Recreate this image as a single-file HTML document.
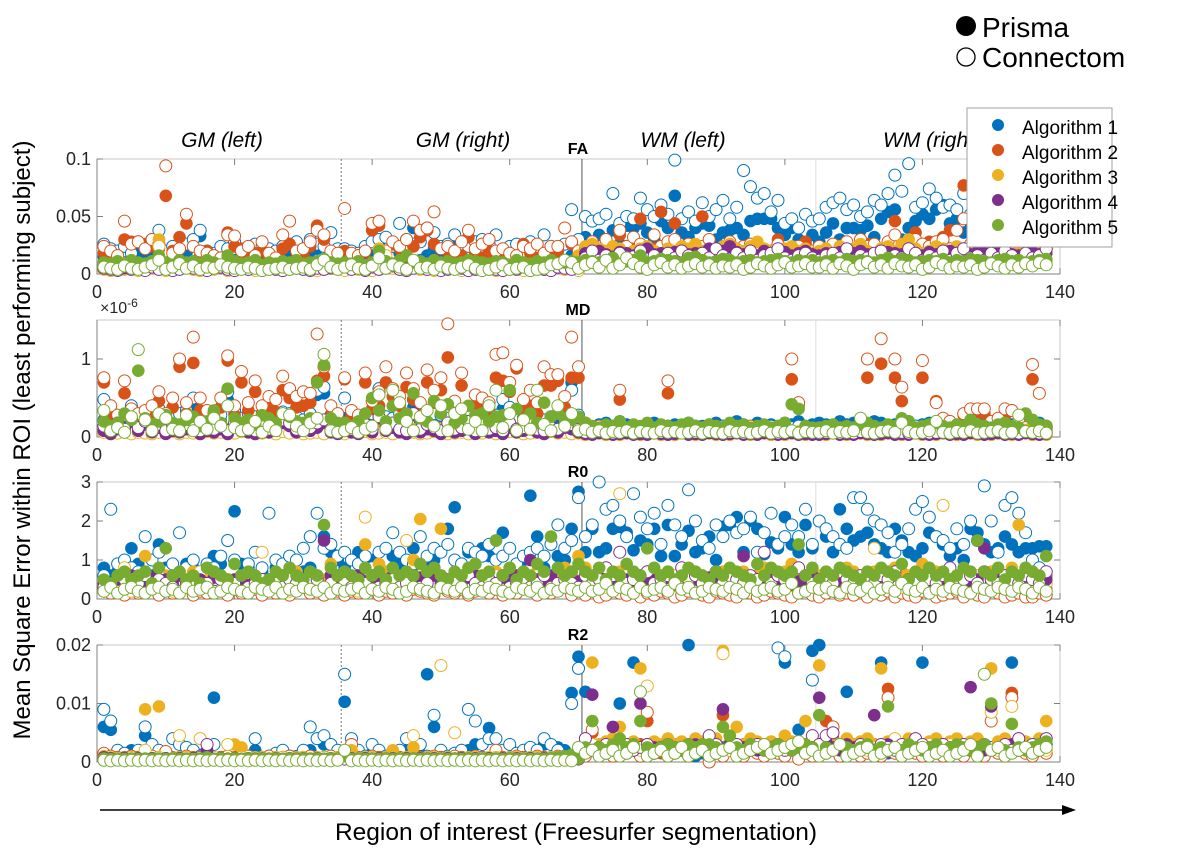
<!DOCTYPE html>
<html><head><meta charset="utf-8"><style>
body{margin:0;background:#fff;width:1191px;height:864px;overflow:hidden}
svg{display:block;font-family:"Liberation Sans",sans-serif}
</style></head><body>
<svg id="chart" width="1191" height="864" xmlns="http://www.w3.org/2000/svg">
<g id="plots"></g>
<g>
<circle cx="966" cy="26" r="10" fill="#000"/>
<text x="982" y="37" font-size="28">Prisma</text>
<circle cx="966" cy="57" r="9" fill="#fff" stroke="#000" stroke-width="1.3"/>
<text x="982" y="67" font-size="28">Connectom</text>
</g>
<text transform="translate(30,440) rotate(-90)" text-anchor="middle" font-size="24">Mean Square Error within ROI  (least performing subject)</text>
<line x1="100" y1="810" x2="1064" y2="810" stroke="#000" stroke-width="1.5"/>
<polygon points="1076,810 1062,805 1062,815" fill="#000"/>
<text x="576" y="840" text-anchor="middle" font-size="24.5">Region of interest (Freesurfer segmentation)</text>
<text x="222" y="147" text-anchor="middle" font-size="21" font-style="italic">GM (left)</text>
<text x="463" y="147" text-anchor="middle" font-size="21" font-style="italic">GM (right)</text>
<text x="683" y="147" text-anchor="middle" font-size="21" font-style="italic">WM (left)</text>
<text x="932" y="147" text-anchor="middle" font-size="21" font-style="italic">WM (right)</text>
<g id="legend"></g>
</svg>
<script>
const algorithmNames=["Algorithm 1","Algorithm 2","Algorithm 3","Algorithm 4","Algorithm 5"];
const colors=["#0072BD","#D95319","#EDB120","#7E2F8E","#77AC30"];
const panelNames=["FA","MD","R0","R2"];
const panelScale=[0.001,1e-8,0.01,0.0001];
const panelMax=[0.1,1.5e-6,3,0.02];
const yTicksFA=[0,0.05,0.1];const yTickLabelsFA=["0","0.05","0.1"];
const yTicksMD=[0,1e-6];const yTickLabelsMD=["0","1"];
const yTicksR0=[0,1,2,3];const yTickLabelsR0=["0","1","2","3"];
const yTicksR2=[0,0.01,0.02];const yTickLabelsR2=["0","0.01","0.02"];
const xTicks=[0,20,40,60,80,100,120,140];
const boundaryDashed=35.5, boundarySolid=70.5, boundaryLight=104.5;

// FA (x1e-3)
const faP1=[15,12,14,10,13,20,18,14,30,12,16,14,18,10,33,20,12,15,22,12,14,10,16,12,10,14,12,18,14,12,20,22,24,20,16,18,12,14,10,16,28,14,24,18,12,40,12,16,22,14,10,26,22,12,16,14,18,10,12,16,14,20,14,18,10,14,20,12,16,20,32,28,34,30,38,26,42,40,44,36,30,46,40,68,36,32,40,44,42,30,36,38,40,34,46,48,48,48,40,34,40,30,26,34,28,36,44,30,40,40,38,42,32,48,54,56,30,40,46,52,48,56,60,44,48,36,40,48,60,54,42,38,50,40,46,32,36,44];
const faC1=[26,22,20,24,18,28,22,30,38,20,24,22,26,30,38,20,18,24,22,28,20,18,26,24,22,20,24,26,28,22,30,26,24,36,22,22,20,18,24,28,30,32,24,44,30,26,28,40,36,24,26,34,22,24,28,30,26,34,20,24,26,20,28,22,34,24,22,26,56,30,50,46,48,52,70,44,50,48,66,56,50,60,52,99,48,54,46,62,50,56,64,48,58,90,76,66,70,54,64,44,48,40,52,46,48,58,62,66,56,60,50,54,64,60,70,86,72,96,58,62,74,66,58,60,56,70,52,44,62,56,48,62,58,54,50,46,56,60];
const faP2=[18,16,14,30,28,28,26,24,22,68,20,32,44,24,16,20,12,14,36,24,22,16,18,20,14,12,22,26,14,16,24,42,30,18,14,20,14,16,12,38,42,18,26,22,16,24,32,38,26,22,20,18,16,32,18,14,20,16,18,12,10,26,18,14,12,20,20,40,26,16,16,20,14,18,14,34,22,28,48,18,22,54,20,44,16,22,18,50,22,16,20,26,18,14,20,24,16,18,30,16,14,20,28,18,16,14,22,18,20,20,30,26,20,18,16,46,22,18,36,20,28,24,32,38,20,77,22,18,20,14,24,22,18,16,20,14,16,18];
const faC2=[24,20,16,46,26,28,22,30,26,94,18,22,52,24,20,18,16,14,34,33,20,24,16,28,18,14,34,46,20,22,28,38,34,20,18,57,18,16,20,44,46,20,28,24,30,46,38,40,54,22,24,20,28,38,22,26,30,20,22,18,16,24,22,26,18,24,24,40,28,20,22,28,18,30,20,38,24,32,26,22,34,24,28,30,22,26,20,24,30,18,22,28,20,24,26,22,18,20,26,20,18,24,22,20,24,20,26,22,28,18,30,24,26,20,28,34,24,22,30,26,24,28,30,22,38,48,26,20,24,22,26,20,24,22,28,20,24,22];
const faP3=[8,6,7,9,8,6,7,8,30,7,6,8,7,9,8,6,7,8,9,7,6,8,7,6,8,7,9,8,7,6,8,9,7,8,6,7,8,6,9,8,22,7,8,6,9,7,8,6,7,9,8,6,7,8,9,6,7,8,7,6,8,9,7,8,6,7,9,8,7,16,24,26,22,20,24,22,18,20,22,24,20,18,22,20,24,22,26,20,18,22,24,26,22,20,24,28,22,20,18,22,24,20,22,18,20,22,18,24,20,22,26,20,18,22,24,20,26,30,22,18,20,24,22,20,24,22,18,20,22,24,20,22,18,20,22,24,20,22];
const faC3=[4,3,5,4,6,3,4,5,24,3,4,5,6,4,3,5,4,6,3,4,5,4,3,6,4,5,3,4,6,4,5,3,4,5,4,3,5,4,6,3,4,16,5,4,3,6,4,5,3,4,6,5,3,4,5,6,4,3,5,4,6,3,4,5,4,3,6,4,5,3,12,10,14,11,9,13,12,10,14,11,12,10,13,11,12,14,10,12,11,13,12,10,14,12,11,13,10,12,14,11,12,10,13,11,10,12,11,13,12,10,14,12,11,13,10,12,14,11,12,10,13,12,11,14,12,10,13,11,12,14,10,12,11,13,12,10,14,12];
const faP4=[7,6,8,5,9,6,7,8,9,6,7,8,5,6,9,7,8,6,10,7,8,6,7,5,6,8,7,9,6,7,8,6,7,5,6,8,6,7,9,8,7,6,8,9,7,6,5,8,7,9,6,8,7,5,6,3,8,7,6,8,7,9,6,7,8,6,7,8,9,7,18,16,20,17,15,19,18,16,20,22,17,18,16,19,20,17,18,16,22,18,20,24,19,17,18,16,20,18,17,19,16,18,20,17,16,18,17,19,16,18,20,17,18,16,19,18,17,20,18,16,19,17,18,20,16,18,17,19,18,16,20,18,17,16,18,19,17,18];
const faC4=[5,4,3,6,4,5,3,6,4,5,3,4,6,5,4,3,5,6,4,3,5,4,6,3,5,4,3,6,5,4,3,5,4,6,5,8,4,5,3,6,4,5,7,4,3,5,6,4,5,3,4,6,5,3,4,5,6,4,3,5,4,6,3,5,4,3,6,5,4,6,14,20,12,16,14,18,12,15,20,13,16,12,18,14,20,16,12,18,14,22,16,13,18,14,20,12,16,18,22,14,12,16,18,14,12,16,18,14,22,12,16,14,18,20,12,16,14,22,18,12,16,14,20,12,18,22,14,16,12,18,14,20,16,12,18,14,16,22];
const faP5=[10,9,11,8,12,10,9,11,16,10,8,12,10,11,9,12,10,8,16,11,9,10,12,8,10,9,11,10,12,9,10,11,13,10,9,10,9,11,8,10,20,11,9,12,16,10,11,9,12,10,11,9,10,12,11,10,9,11,10,8,12,10,9,11,10,12,9,10,11,10,12,11,10,12,14,9,11,12,16,10,11,13,12,11,10,14,15,12,10,11,13,12,10,11,12,10,11,12,13,11,10,12,11,12,10,11,12,10,13,11,12,11,10,12,14,11,13,12,10,11,12,11,13,10,12,11,13,12,11,10,12,13,11,12,10,11,12,13];
const faC5=[6,5,4,7,5,4,6,8,12,4,6,9,5,7,4,6,5,8,6,5,4,6,5,3,4,5,6,4,5,6,4,8,12,6,4,6,8,5,4,7,14,5,8,6,4,12,5,6,4,7,5,4,6,8,5,3,4,6,8,4,5,6,3,4,5,8,9,12,10,5,8,10,6,12,5,8,14,9,6,4,8,10,6,8,5,7,9,6,8,5,7,6,8,4,6,9,7,5,8,10,6,7,9,6,6,8,5,9,7,4,8,10,6,8,5,9,7,6,8,4,6,10,8,5,7,6,8,4,6,9,7,5,8,6,9,7,10,8];

// MD (x1e-8)
const mdP1=[22,40,18,14,20,16,15,18,20,16,14,22,36,38,18,16,14,20,48,30,18,16,20,14,18,16,22,20,18,16,22,54,56,20,18,24,18,16,20,22,56,18,16,22,20,38,18,16,22,20,14,30,18,16,22,24,18,20,36,28,18,16,22,20,16,18,22,18,70,20,14,12,16,18,14,20,16,14,12,16,18,14,12,16,14,18,12,14,16,18,14,12,20,16,14,18,12,16,14,18,16,20,14,16,18,16,14,20,16,18,14,16,20,18,14,16,18,20,14,16,18,14,16,20,14,16,18,14,20,16,14,18,16,14,20,16,18,14];
const mdC1=[48,30,22,28,40,20,30,24,36,22,28,30,34,50,26,22,32,28,58,34,24,30,26,22,28,24,32,30,26,22,30,60,64,28,24,50,26,22,28,30,62,26,24,30,28,48,26,22,30,28,24,40,26,24,30,32,26,28,48,38,26,24,30,28,22,26,30,26,60,28,12,10,14,12,10,14,12,10,12,14,10,12,14,10,12,10,14,12,10,12,14,10,12,14,10,12,10,14,12,10,12,14,10,12,10,12,14,10,12,10,14,12,10,12,14,10,12,10,14,12,10,12,14,10,12,10,14,12,10,12,14,10,12,10,14,12,10,12];
const mdP2=[70,30,20,56,26,18,24,30,46,22,38,90,30,95,34,24,20,38,98,28,70,34,58,30,40,32,60,50,38,40,44,72,78,28,24,74,26,20,70,36,40,70,52,40,64,48,30,70,44,60,102,34,66,22,40,38,34,76,72,58,88,34,40,30,66,66,72,38,76,76,14,10,12,8,10,48,6,8,10,12,8,10,56,10,8,12,6,10,8,12,10,8,6,10,12,8,10,8,10,12,74,40,10,8,10,8,12,10,8,10,12,76,10,94,12,76,46,10,8,76,12,46,14,16,8,28,30,32,30,14,16,28,34,14,10,74,56,10];
const mdC2=[76,40,28,72,36,30,34,40,58,30,50,100,44,128,50,34,30,50,104,40,84,44,72,40,52,48,78,62,52,58,56,132,90,40,30,76,34,28,82,46,58,90,62,52,82,62,44,86,60,76,145,46,82,30,54,50,44,106,108,70,92,48,60,44,90,80,80,52,128,90,18,12,14,10,12,60,8,10,12,14,10,12,72,12,10,14,8,12,10,14,12,10,8,12,14,10,12,10,12,14,100,44,12,10,12,10,14,12,10,12,14,100,12,126,14,100,64,12,10,98,14,44,24,20,10,30,36,36,36,20,24,36,34,20,12,93,56,14];
const mdP3=[10,8,12,9,14,8,10,12,16,8,10,12,9,11,14,10,8,12,10,9,11,8,10,12,9,11,10,8,12,10,9,11,12,10,8,12,10,8,11,9,12,10,14,9,11,10,8,12,9,11,10,12,8,10,9,11,12,10,8,9,11,10,12,8,10,11,9,10,12,10,8,6,7,9,6,8,7,6,8,7,9,6,8,7,6,8,9,7,6,8,7,9,6,8,7,6,8,7,9,6,8,7,6,8,7,8,6,9,7,8,6,7,9,8,6,7,8,6,9,7,8,6,7,9,8,6,7,8,6,9,7,8,6,7,9,8,6,7];
const mdC3=[6,4,5,7,4,6,5,4,6,5,7,4,6,5,4,7,5,6,4,5,7,6,4,5,6,4,7,5,6,4,5,6,4,7,5,4,6,5,7,4,5,6,4,7,5,6,4,5,7,6,4,5,6,4,7,5,6,4,5,7,6,4,5,6,4,7,5,6,4,5,3,4,5,3,4,3,5,4,3,4,5,3,4,3,5,4,3,4,5,3,4,3,5,4,3,4,5,3,4,3,5,4,3,4,4,3,5,4,3,4,5,3,4,3,5,4,3,4,5,3,4,3,5,4,3,4,5,3,4,3,5,4,3,4,5,3,4,3];
const mdP4=[8,4,10,6,20,8,16,6,12,4,8,6,10,14,4,8,6,10,4,12,8,6,4,10,6,8,18,14,6,10,8,12,18,6,4,8,6,4,10,6,24,8,12,6,4,28,6,10,8,4,12,6,8,16,4,10,6,8,4,12,6,8,10,6,4,8,6,12,10,6,4,3,5,4,3,4,5,3,4,3,5,4,3,4,5,3,4,3,5,4,3,4,5,3,4,3,5,4,3,4,5,3,4,3,3,4,5,3,4,3,5,4,3,4,5,3,4,3,5,4,3,4,5,3,4,3,5,4,3,4,5,3,4,3,5,4,3,4];
const mdC4=[14,8,18,10,24,12,20,10,16,8,14,10,16,20,8,12,10,16,8,18,12,10,8,16,10,14,22,18,10,16,12,18,22,10,8,14,10,8,16,10,26,12,18,10,8,30,10,16,12,8,18,10,12,20,8,16,10,12,8,18,10,12,16,10,8,12,10,18,16,10,6,5,7,6,5,6,7,5,6,5,7,6,5,6,7,5,6,5,7,6,5,6,7,5,6,5,7,6,5,6,7,5,6,5,5,6,7,5,6,5,7,6,5,6,7,5,6,5,7,6,5,6,7,5,6,5,7,6,5,6,7,5,6,5,7,6,5,6];
const mdP5=[20,14,18,30,22,85,24,16,20,28,18,16,22,26,14,20,34,18,62,24,18,22,16,28,24,18,30,26,20,18,24,70,92,24,18,18,14,20,30,50,34,20,40,24,30,56,24,20,46,30,42,18,24,40,28,30,20,26,28,60,36,22,30,18,44,26,30,24,22,26,18,14,12,16,14,20,12,16,14,18,12,16,14,12,16,18,14,12,16,14,12,18,14,16,12,14,16,12,14,18,42,36,14,12,12,14,16,12,14,12,16,18,14,12,16,14,24,20,12,14,16,18,14,12,16,14,22,16,14,12,16,18,14,12,30,22,16,14];
const mdC5=[34,8,12,6,26,112,22,8,30,24,10,8,28,8,20,10,24,14,40,12,8,10,20,6,14,8,30,28,14,8,18,24,106,8,6,8,12,6,10,14,54,10,60,44,20,8,26,34,14,40,8,30,36,10,20,8,40,60,12,30,8,22,10,60,16,8,40,14,30,8,10,6,8,5,7,6,8,5,7,6,5,8,6,7,5,6,8,5,7,6,5,8,6,7,5,6,8,5,7,6,8,5,7,6,6,8,5,7,6,8,24,6,5,7,8,6,18,7,5,6,8,20,6,5,7,6,8,5,6,7,8,5,6,28,7,6,8,5];

// R0 (x1e-2)
const r0P1=[80,60,70,55,130,90,70,60,140,80,70,60,90,80,70,60,110,90,150,225,90,80,60,70,50,80,70,90,60,70,80,60,160,120,100,80,60,120,40,100,80,70,110,90,60,130,70,80,100,60,180,235,70,120,90,130,110,150,170,60,80,100,265,160,80,140,110,100,180,275,120,180,120,130,180,185,170,125,150,140,180,110,190,110,140,175,120,130,160,100,185,190,210,120,200,180,115,145,130,210,140,120,190,130,200,160,120,230,180,150,160,170,140,130,120,180,150,120,110,130,170,160,140,110,130,100,180,170,140,120,130,160,140,120,130,130,135,135];
const r0C1=[60,230,90,100,80,70,160,100,120,70,90,170,80,100,70,90,80,110,150,100,60,90,120,80,220,100,90,110,100,130,160,220,130,140,110,120,100,90,110,80,120,130,170,120,100,90,160,110,130,120,140,100,90,130,120,110,140,100,110,130,90,110,120,130,110,140,190,130,150,260,160,190,300,230,240,200,160,270,210,180,220,140,240,190,160,280,200,150,130,190,160,200,170,180,210,120,170,220,140,160,190,160,230,140,200,180,160,140,130,260,260,230,200,190,170,120,140,180,230,250,210,160,150,130,180,140,200,150,290,200,120,240,260,220,170,100,80,60];
const r0P2=[30,20,40,25,35,20,30,40,25,30,20,35,40,25,30,20,35,30,25,40,20,30,35,25,40,20,30,25,35,40,20,30,25,40,30,25,30,20,40,35,25,30,20,40,25,35,30,20,25,40,30,20,35,25,30,40,20,35,25,30,20,40,30,25,35,20,30,40,25,30,20,30,25,15,30,20,25,30,15,20,25,30,20,15,25,30,20,25,15,30,20,25,10,30,20,15,25,30,20,25,15,20,30,25,10,20,30,15,25,20,30,15,20,25,30,15,20,25,10,30,20,15,25,20,30,15,20,25,10,30,20,15,25,20,30,15,20,25];
const r0C2=[20,15,30,10,25,15,20,30,10,20,15,25,30,10,20,15,25,20,10,30,15,20,25,10,30,15,20,10,25,30,15,20,10,30,20,10,20,15,30,25,10,20,15,30,10,25,20,15,10,30,20,15,25,10,20,30,15,25,10,20,15,30,20,10,25,15,20,30,10,20,10,20,5,10,20,15,10,20,5,15,10,20,15,5,10,20,15,10,5,20,15,10,5,20,15,5,10,20,15,10,5,15,20,10,5,15,20,10,15,10,20,5,15,10,20,5,15,10,5,20,15,5,10,15,20,5,15,10,5,20,15,5,10,15,5,5,15,10];
const r0P3=[40,30,50,70,30,40,110,40,50,60,40,30,50,70,40,60,50,40,30,50,60,40,50,30,40,60,50,40,70,50,60,40,50,90,40,60,40,50,140,60,90,70,60,40,50,100,205,60,50,180,40,60,50,70,40,60,50,70,60,80,50,60,40,70,60,50,60,80,70,110,80,60,70,50,60,70,80,50,60,70,40,60,70,50,80,60,70,50,40,60,70,50,60,70,40,60,80,50,60,70,90,60,50,70,60,70,50,60,80,70,50,60,70,40,60,80,70,60,50,90,60,70,50,80,60,70,50,60,60,70,50,60,80,190,60,70,50,60];
const r0C3=[20,30,40,80,20,50,30,40,60,30,20,40,30,50,70,30,40,20,50,30,40,20,30,120,40,30,50,20,40,30,50,40,30,60,40,30,40,20,210,50,30,40,60,30,150,40,60,30,40,50,30,60,40,30,50,40,30,60,40,30,50,40,30,60,40,50,30,40,60,40,60,40,50,30,40,270,60,40,50,30,60,40,50,60,40,50,30,60,40,50,30,40,60,40,30,50,40,60,30,50,40,30,60,40,40,60,30,50,40,60,30,50,130,40,60,50,30,40,60,50,40,30,240,60,40,50,30,60,40,50,30,60,40,50,40,30,50,40];
const r0P4=[40,35,50,30,60,45,40,55,35,50,40,60,45,35,50,40,55,60,45,50,40,35,55,40,50,45,60,40,50,45,60,55,150,60,45,50,40,60,45,55,40,50,60,45,50,40,55,45,60,40,50,45,40,55,60,45,50,40,55,45,60,40,100,50,45,60,40,55,50,45,40,50,60,45,40,55,50,40,60,45,50,40,55,45,60,40,50,45,55,40,50,60,45,110,40,50,45,60,40,55,50,45,40,60,50,40,55,45,60,40,50,45,40,55,50,60,40,45,55,50,40,60,45,50,40,55,45,50,130,40,60,45,55,50,40,60,45,50];
const r0C4=[30,40,20,50,30,40,60,30,50,40,30,20,40,50,30,40,20,50,30,40,60,30,40,50,30,40,30,50,40,30,40,50,30,40,60,40,30,50,40,60,30,40,50,30,40,60,30,40,80,30,50,40,30,60,40,30,50,40,60,30,40,50,30,40,60,30,40,50,40,30,60,40,50,80,60,120,40,50,60,70,40,50,60,40,80,50,60,40,50,70,40,60,50,40,60,50,120,40,60,50,40,80,60,40,50,60,40,70,50,40,60,50,40,60,50,70,40,50,40,60,50,40,60,80,40,50,60,40,70,50,40,60,50,40,60,50,40,70];
const r0P5=[50,40,60,70,50,60,70,40,80,130,60,70,50,60,40,80,70,60,50,90,60,70,60,40,50,70,60,80,60,50,70,60,190,80,60,70,60,50,80,60,70,50,80,60,70,60,90,70,80,60,50,70,60,80,90,60,70,150,60,80,50,70,60,90,70,160,80,60,70,90,70,60,80,50,70,60,90,70,60,130,80,60,70,50,60,80,70,60,50,70,60,80,70,60,50,90,60,80,70,60,70,140,60,80,50,70,60,80,70,60,50,70,60,80,70,60,90,50,70,60,80,60,70,50,60,80,70,150,70,60,80,50,70,60,80,70,60,110];
const r0C5=[20,30,15,25,30,20,15,25,30,20,25,15,30,20,25,30,15,20,30,25,20,15,30,25,20,30,15,25,20,30,25,20,30,15,25,20,25,30,15,25,20,30,25,15,20,30,25,20,15,30,25,20,30,15,25,20,30,25,20,15,30,25,20,30,15,25,20,30,25,20,30,20,25,40,20,30,25,15,30,20,25,30,20,40,25,30,15,20,30,25,20,30,25,15,30,20,25,30,20,25,40,15,20,30,25,30,20,15,30,25,20,30,15,25,30,20,40,25,20,30,15,25,20,30,25,20,15,30,25,20,30,25,20,30,25,15,30,20];

// R2 (x1e-4)
const r2P1=[60,55,10,8,20,6,45,10,8,10,6,8,15,20,12,10,110,8,10,18,6,10,20,8,6,10,8,6,10,8,20,40,30,8,6,103,10,8,6,15,6,10,8,10,20,8,14,150,60,6,10,8,10,20,30,8,58,10,6,15,8,6,10,12,30,8,25,20,118,180,120,20,30,25,20,100,25,170,30,10,20,20,25,30,20,200,10,15,20,20,25,30,20,15,25,20,15,20,25,170,20,55,20,190,200,20,25,20,120,20,15,25,20,170,15,25,20,20,15,170,20,25,15,20,25,30,20,15,20,25,20,20,170,25,20,15,20,25];
const r2C1=[90,70,20,15,10,20,60,30,20,10,40,30,25,20,10,15,30,8,10,20,15,10,40,8,10,15,20,10,8,20,60,40,45,30,20,150,40,20,10,30,20,10,15,20,40,20,30,10,80,20,10,15,20,90,70,30,40,40,20,30,15,20,25,20,40,30,20,10,100,160,20,30,20,25,20,30,20,25,20,30,15,25,20,30,20,25,20,30,25,20,15,25,20,30,20,25,20,30,195,180,25,20,30,140,25,30,20,25,20,30,25,20,30,25,20,30,25,20,30,20,25,30,20,25,20,30,25,20,30,25,20,30,25,20,30,25,20,30];
const r2P2=[10,8,6,8,5,6,8,6,5,6,8,5,6,8,5,6,8,5,6,8,5,6,8,5,6,8,5,6,8,5,6,8,5,6,8,5,30,6,8,5,6,8,5,6,8,5,6,8,5,6,8,5,6,8,5,6,8,5,6,8,5,6,8,5,6,8,5,6,8,5,15,50,25,30,20,30,25,20,30,70,20,15,25,20,30,20,25,20,30,20,80,25,20,30,25,20,30,20,25,20,30,20,25,20,20,70,40,25,30,20,25,20,30,25,125,25,20,30,20,25,20,30,25,20,30,25,20,30,25,70,20,25,118,30,20,25,30,20];
const r2C2=[15,10,8,6,10,8,6,10,8,18,6,8,10,6,8,14,6,8,10,6,8,10,6,8,10,6,8,10,6,8,10,6,8,10,6,6,30,8,6,10,8,6,10,8,6,10,8,6,10,8,6,10,8,6,10,8,6,20,8,6,10,8,6,10,8,6,10,8,6,10,10,55,20,15,10,20,15,25,10,85,15,20,10,15,20,10,15,20,0,15,10,20,15,10,20,15,10,20,15,10,20,5,15,10,20,15,60,10,15,20,10,15,20,10,110,15,10,20,15,10,20,15,10,20,15,10,20,15,10,70,15,10,110,20,15,10,20,15];
const r2P3=[10,8,6,5,8,6,90,5,95,6,5,8,6,5,40,6,8,5,6,30,25,6,8,5,6,8,5,6,8,5,6,8,5,6,8,5,20,6,8,5,6,8,20,6,8,25,6,8,5,6,8,5,6,8,5,6,8,5,6,8,5,6,8,5,6,8,5,6,8,5,40,170,30,35,40,60,30,35,160,30,35,30,40,30,35,30,40,35,40,40,190,35,60,30,40,35,30,35,30,45,35,30,70,35,165,30,35,30,40,30,35,40,30,160,35,40,30,40,35,30,35,40,30,35,40,30,35,40,30,160,35,40,30,40,35,30,40,70];
const r2C3=[8,6,5,6,8,5,20,6,8,5,6,45,8,5,40,6,8,5,30,6,8,5,6,8,5,6,8,5,6,8,5,6,8,5,6,6,8,5,6,8,5,6,8,5,6,45,5,6,8,165,6,50,5,6,8,5,6,8,5,6,8,5,6,8,5,6,8,5,6,8,20,30,25,20,30,20,25,30,20,130,25,20,30,20,25,20,30,20,25,30,185,20,30,25,20,30,20,25,30,20,25,30,20,25,30,20,25,30,20,25,30,20,25,30,20,40,25,30,20,25,30,20,25,30,20,25,30,20,25,85,20,30,95,25,20,30,25,20];
const r2P4=[8,6,5,6,5,6,5,6,5,6,5,6,5,6,5,20,5,6,5,6,5,6,5,6,5,6,5,6,5,6,5,6,5,6,5,6,5,6,5,6,5,6,5,6,5,6,5,6,5,6,5,6,5,6,5,6,5,6,5,6,5,6,5,6,5,6,5,6,5,6,20,115,25,20,60,25,20,30,100,20,25,20,30,25,20,25,30,25,20,25,90,30,20,25,30,20,25,20,30,25,20,25,30,25,110,40,25,20,30,25,20,25,80,20,30,25,20,25,30,20,25,20,30,25,20,25,128,25,20,95,25,20,30,40,25,20,30,35];
const r2C4=[5,6,5,6,5,6,5,6,5,6,5,6,5,6,5,30,5,6,5,6,5,6,5,6,5,6,5,6,5,6,5,6,5,6,5,5,6,5,6,5,6,5,6,5,6,5,6,5,6,5,6,5,6,5,6,5,6,5,6,5,6,5,6,5,6,5,6,5,6,5,40,20,25,30,20,25,30,20,25,30,20,25,30,20,25,30,20,25,45,30,20,25,30,20,25,30,20,25,30,20,25,30,20,45,30,45,50,30,25,20,30,25,20,30,25,20,30,25,40,30,20,25,30,20,25,30,20,25,30,20,25,30,20,40,25,30,25,40];
const r2P5=[6,5,6,5,6,5,6,5,6,5,6,5,6,5,6,8,5,6,5,6,5,6,5,6,5,6,5,6,5,6,5,6,5,6,5,10,5,6,5,6,5,6,5,6,5,6,5,6,5,6,5,6,5,6,5,6,5,6,5,6,5,6,5,6,5,6,8,10,12,6,25,70,25,20,30,40,25,30,70,25,20,25,30,25,20,30,25,30,30,25,60,45,25,20,30,25,20,25,30,25,20,25,30,25,80,25,20,30,25,20,25,30,20,25,95,25,20,30,25,20,25,30,20,25,30,25,20,25,30,100,25,20,65,25,20,25,30,35];
const r2C5=[3,2,3,2,3,2,3,2,3,2,3,2,3,2,3,2,3,2,3,2,3,2,3,2,3,2,3,2,3,2,3,2,3,2,3,20,2,3,2,3,2,3,2,3,2,3,2,3,2,3,2,3,2,3,2,3,2,3,2,3,2,3,2,3,2,3,2,3,2,25,15,20,10,15,20,10,15,25,120,10,15,20,10,15,25,10,15,20,10,15,20,25,10,15,20,25,30,15,20,25,30,35,15,20,10,15,20,30,10,15,20,25,10,15,20,25,10,15,20,25,10,15,20,10,15,20,30,10,150,20,25,10,15,20,25,15,20,25];

const panelPrisma=[[faP1,faP2,faP3,faP4,faP5],[mdP1,mdP2,mdP3,mdP4,mdP5],[r0P1,r0P2,r0P3,r0P4,r0P5],[r2P1,r2P2,r2P3,r2P4,r2P5]];
const panelConnectom=[[faC1,faC2,faC3,faC4,faC5],[mdC1,mdC2,mdC3,mdC4,mdC5],[r0C1,r0C2,r0C3,r0C4,r0C5],[r2C1,r2C2,r2C3,r2C4,r2C5]];
const panelYTicks=[yTicksFA,yTicksMD,yTicksR0,yTicksR2];
const panelYTickLabels=[yTickLabelsFA,yTickLabelsMD,yTickLabelsR0,yTickLabelsR2];

const NS="http://www.w3.org/2000/svg";
const X0=97,X1=1060,XMAX=140;
const tops=[159,320,482,645],bots=[274,437,599,762];
function xs(v){return X0+v*(X1-X0)/XMAX;}
function mk(tag,attrs,parent){const e=document.createElementNS(NS,tag);for(const k in attrs)e.setAttribute(k,attrs[k]);parent.appendChild(e);return e;}
const plots=document.getElementById('plots');

for(let p=0;p<4;p++){
  const top=tops[p],bot=bots[p],mx=panelMax[p];
  const ys=v=>bot-(v/mx)*(bot-top);
  const g=mk('g',{},plots);
  
  
  const frame=mk('rect',{x:X0,y:top,width:X1-X0,height:bot-top,fill:'#fff',stroke:'#c8c8c8','stroke-width':1},g);
  
  
  xTicks.forEach(t=>{
    mk('line',{x1:xs(t),x2:xs(t),y1:top,y2:top+6,stroke:'#808080'},g);
    mk('line',{x1:xs(t),x2:xs(t),y1:bot,y2:bot-6,stroke:'#808080'},g);
    const tl=mk('text',{x:xs(t),y:bot+24,'text-anchor':'middle','font-size':18,fill:'#262626'},g);
    tl.textContent=String(t);
    
    
  });
  panelYTicks[p].forEach((t,i)=>{
    mk('line',{x1:X0,x2:X0+6,y1:ys(t),y2:ys(t),stroke:'#808080'},g);
    mk('line',{x1:X1,x2:X1-6,y1:ys(t),y2:ys(t),stroke:'#808080'},g);
    const yl=mk('text',{x:X0-6,y:ys(t)+6,'text-anchor':'end','font-size':18,fill:'#262626'},g);
    yl.textContent=panelYTickLabels[p][i];
    
    
  });
  const ax=mk('path',{d:`M${X0},${top}V${bot}H${X1}`,fill:'none',stroke:'#808080','stroke-width':1},g);
  
  
  mk('line',{x1:xs(boundaryDashed),x2:xs(boundaryDashed),y1:top,y2:bot,stroke:'#555','stroke-dasharray':'2,2','stroke-width':0.8},g);
  mk('line',{x1:xs(boundarySolid),x2:xs(boundarySolid),y1:top,y2:bot,stroke:'#555','stroke-width':1},g);
  mk('line',{x1:xs(boundaryLight),x2:xs(boundaryLight),y1:top,y2:bot,stroke:'#ddd','stroke-width':1},g);
  const title=mk('text',{x:578,y:top-5,'text-anchor':'middle','font-size':16,'font-weight':'bold'},g);
  title.textContent=panelNames[p];
  
  
  for(let a=0;a<5;a++){
    const s1=mk('g',{},g);
    
    
    panelPrisma[p][a].forEach((v,i)=>{
      const c=mk('circle',{cx:xs(i+1),cy:ys(Math.min(v*panelScale[p],mx)),r:6.3,fill:colors[a]},s1);
      
      
    });
    const s2=mk('g',{},g);
    
    
    panelConnectom[p][a].forEach((v,i)=>{
      const c=mk('circle',{cx:xs(i+1),cy:ys(Math.min(v*panelScale[p],mx)),r:6,fill:'#fff',stroke:colors[a],'stroke-width':1},s2);
      
      
    });
  }
}
const exp=mk('text',{x:100,y:313,'font-size':16,fill:'#262626'},plots);
exp.innerHTML='×10<tspan dy="-6" font-size="12">-6</tspan>';



const lg=document.getElementById('legend');
const box=mk('rect',{x:967,y:108,width:145,height:139,fill:'#fff',stroke:'#a0a0a0'},lg);


algorithmNames.forEach((n,i)=>{
  const y=128+i*25;
  const d=mk('circle',{cx:998,cy:y-3,r:6,fill:colors[i]},lg);
  
  
  const t=mk('text',{x:1022,y:y+6,'font-size':19,fill:'#000'},lg);
  t.textContent=n;
  
  
});
</script>
</body></html>
